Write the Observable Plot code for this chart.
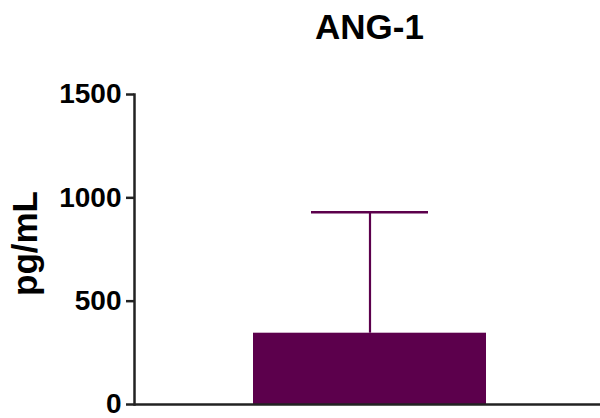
<!DOCTYPE html>
<html>
<head>
<meta charset="utf-8">
<script src="https://cdn.jsdelivr.net/npm/d3@7"></script>
<script src="https://cdn.jsdelivr.net/npm/@observablehq/plot@0.6"></script>
<style>
  html, body { margin: 0; padding: 0; background: #fff; }
  #chart { width: 600px; height: 418px; }
</style>
</head>
<body>
<div id="chart"></div>
<script>
const title = "ANG-1";
const categories = ["ANG-1"];
const means = [345];
const sds = [585];
const yTicks = [0, 500, 1000, 1500];
const yLabel = "pg/mL";

const data = categories.map((c, i) => ({ cat: c, mean: means[i], top: means[i] + sds[i] }));
const purple = "#5c004c";
const axisColor = "#222";
const font = "'Liberation Sans', Arial, Helvetica, sans-serif";

const chart = Plot.plot({
  width: 600,
  height: 418,
  marginTop: 94,
  marginBottom: 14,
  marginLeft: 134,
  marginRight: 0,
  style: { fontFamily: font, background: "#fff", color: "#000" },
  x: { domain: categories, paddingInner: 0, paddingOuter: 0.5, align: 0.51, axis: null },
  y: { domain: [0, 1500], axis: null },
  marks: [
    Plot.barY(data, { x: "cat", y: "mean", fill: purple }),
    Plot.ruleX(data, { x: "cat", y1: "mean", y2: "top", stroke: purple, strokeWidth: 2.2 }),
    Plot.tickY(data, { x: "cat", y: "top", stroke: purple, strokeWidth: 2.5, insetLeft: 58, insetRight: 58 }),
    Plot.ruleY([0], { stroke: axisColor, strokeWidth: 2.5 }),
    Plot.frame({ anchor: "left", stroke: axisColor, strokeWidth: 2.5 }),
    Plot.axisY({
      ticks: yTicks,
      tickSize: 8,
      tickPadding: 5,
      tickFormat: d => String(d),
      label: null,
      fontSize: 28,
      fontWeight: "bold",
      stroke: axisColor,
      strokeWidth: 2.5,
      fill: "#000"
    }),
    Plot.text([title], {
      text: d => d,
      frameAnchor: "top",
      lineAnchor: "bottom",
      dy: -56,
      dx: 2,
      fontSize: 35,
      fontWeight: "bold",
      fill: "#000"
    }),
    Plot.text([yLabel], {
      text: d => d,
      frameAnchor: "left",
      textAnchor: "middle",
      rotate: -90,
      lineAnchor: "bottom",
      dx: -98,
      dy: -6,
      fontSize: 35,
      fontWeight: "bold",
      fill: "#000"
    })
  ]
});
document.getElementById("chart").appendChild(chart);
</script>
</body>
</html>
